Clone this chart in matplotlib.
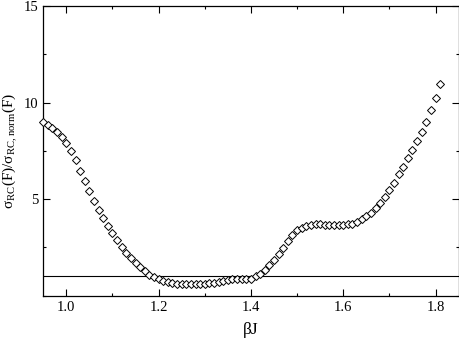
import matplotlib
matplotlib.use("Agg")
import matplotlib.pyplot as plt
from matplotlib.ticker import MultipleLocator

plt.rcParams["font.family"] = ["Liberation Serif", "DejaVu Serif"]
plt.rcParams["mathtext.fontset"] = "custom"
plt.rcParams["mathtext.rm"] = "Liberation Serif"

# beta*J from 0.95 to 1.81, step 0.01
beta_j = [round(0.95 + 0.01 * i, 2) for i in range(87)]
ratio = [
    9.00, 8.84, 8.68, 8.48, 8.24, 7.92, 7.50, 7.02, 6.47, 5.95,   # 0.95-1.04
    5.40, 4.92, 4.45, 4.02, 3.62, 3.26, 2.88, 2.53, 2.22, 1.93,   # 1.05-1.14
    1.68, 1.47, 1.28, 1.09, 0.95, 0.85, 0.76, 0.70, 0.66, 0.63,   # 1.15-1.24
    0.61, 0.60, 0.59, 0.59, 0.60, 0.61, 0.64, 0.68, 0.73, 0.78,   # 1.25-1.34
    0.82, 0.85, 0.86, 0.87, 0.87, 0.88, 1.00, 1.15, 1.35, 1.58,   # 1.35-1.44
    1.85, 2.15, 2.48, 2.82, 3.12, 3.38, 3.53, 3.62, 3.67, 3.69,   # 1.45-1.54
    3.69, 3.68, 3.67, 3.66, 3.65, 3.66, 3.69, 3.74, 3.83, 3.95,   # 1.55-1.64
    4.12, 4.31, 4.55, 4.78, 5.12, 5.47, 5.86, 6.28, 6.67, 7.11,   # 1.65-1.74
    7.54, 8.00, 8.48, 9.00, 9.61, 10.23, 10.94,                   # 1.75-1.81
]
reference_level = 1.0

fig = plt.figure(figsize=(4.6, 3.38), dpi=100)
ax = fig.add_axes([0.094, 0.125, 0.903, 0.857])

ax.axhline(reference_level, color="black", lw=0.8, zorder=1)
ax.plot(beta_j, ratio, ls="none", marker="D", ms=3.6, mfc="white",
        mec="black", mew=0.7, zorder=3, clip_on=False)

ax.set_xlim(0.95, 1.85)
ax.set_ylim(0, 15)
ax.xaxis.set_major_locator(MultipleLocator(0.2))
ax.xaxis.set_minor_locator(MultipleLocator(0.1))
ax.yaxis.set_minor_locator(MultipleLocator(2.5))
ax.set_yticks([5, 10, 15])
ax.tick_params(which="both", direction="in", top=True, right=True,
               labelsize=10.5, width=0.8)
ax.tick_params(which="major", length=5)
ax.tick_params(which="minor", length=2.5)
for s in ax.spines.values():
    s.set_linewidth(0.9)

ax.set_xlabel(r"βJ", fontsize=12.5, labelpad=6)
ax.set_ylabel(r"σ$_{\mathrm{RC}}$(F)/σ$_{\mathrm{RC,norm}}$(F)", fontsize=11)
ax.yaxis.set_label_coords(-0.056, 0.5)

fig.savefig("out.png", dpi=100)
